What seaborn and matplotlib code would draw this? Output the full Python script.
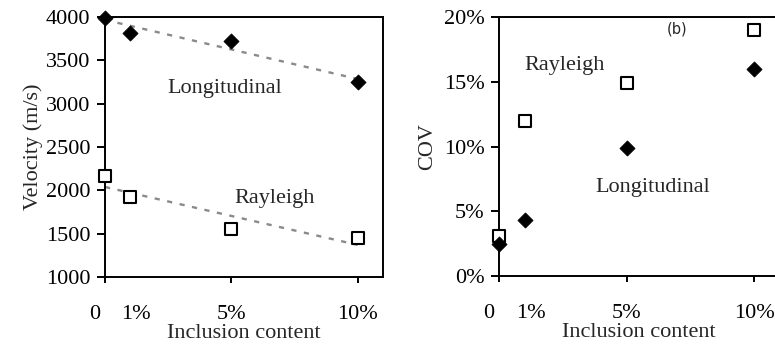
import matplotlib
matplotlib.use("Agg")
import matplotlib.pyplot as plt
import matplotlib.transforms as mtransforms
import pandas as pd
import seaborn as sns

# Inclusion content (%) and its tick labels
content = [0, 1, 5, 10]
content_labels = ["0", "1%", "5%", "10%"]

# Wave velocities (m/s)
vel_longitudinal = [3990, 3820, 3720, 3245]
vel_rayleigh = [2160, 1920, 1555, 1450]

# Coefficient of variation (%)
cov_longitudinal = [2.5, 4.3, 9.9, 16.0]
cov_rayleigh = [3.1, 12.0, 14.9, 19.0]

vel_ticks = [1000, 1500, 2000, 2500, 3000, 3500, 4000]
cov_ticks = [0, 5, 10, 15, 20]

sns.set_theme(style="ticks")
plt.rcParams["font.family"] = ["Liberation Serif", "DejaVu Serif"]
plt.rcParams["mathtext.default"] = "regular"

FS = 16
W, H = 775, 348
fig = plt.figure(figsize=(W / 100, H / 100), dpi=100)
fig.patch.set_facecolor("white")


def px_axes(left, top, right, bottom):
    return fig.add_axes([left / W, 1 - bottom / H, (right - left) / W, (bottom - top) / H])


ax1 = px_axes(105, 17, 383, 277)
ax2 = px_axes(499, 17, 779.5, 276)

vel = pd.DataFrame({"content": content, "Longitudinal": vel_longitudinal, "Rayleigh": vel_rayleigh})
cov = pd.DataFrame({"content": content, "Longitudinal": cov_longitudinal, "Rayleigh": cov_rayleigh})

trend_kws = dict(color="#8a8a8a", linestyle=(0, (2.2, 3.2)), linewidth=1.7)
diamond_kws = dict(marker="D", s=60, color="black", edgecolor="black", linewidth=0.5,
                   clip_on=False, zorder=4)
square_kws = dict(marker="s", s=72, facecolor="white", edgecolor="black", linewidth=1.5,
                  clip_on=False, zorder=4)

# (a) velocities with linear trend lines
for col in ["Longitudinal", "Rayleigh"]:
    sns.regplot(data=vel, x="content", y=col, ax=ax1, scatter=False, ci=None,
                truncate=True, line_kws=trend_kws)
sns.scatterplot(data=vel, x="content", y="Longitudinal", ax=ax1, **diamond_kws)
sns.scatterplot(data=vel, x="content", y="Rayleigh", ax=ax1, **square_kws)

ax1.set_xlim(0, 11)
ax1.set_ylim(1000, 4000)
ax1.set_yticks(vel_ticks)
ax1.set_yticklabels([str(v) for v in vel_ticks])
ax1.set_ylabel("Velocity (m/s)", fontsize=FS, labelpad=2)
ax1.text(4.74, 3177, "Longitudinal", fontsize=FS, ha="center", va="center")
ax1.text(6.72, 1908, "Rayleigh", fontsize=FS, ha="center", va="center")

# (b) coefficient of variation
sns.scatterplot(data=cov, x="content", y="Rayleigh", ax=ax2, **square_kws)
sns.scatterplot(data=cov, x="content", y="Longitudinal", ax=ax2, **diamond_kws)

ax2.set_xlim(0, 11)
ax2.set_ylim(0, 20)
ax2.set_yticks(cov_ticks)
ax2.set_yticklabels([f"{v}%" for v in cov_ticks])
ax2.set_ylabel("COV", fontsize=FS, labelpad=5)
ax2.text(2.59, 16.27, "Rayleigh", fontsize=FS, ha="center", va="center")
ax2.text(6.04, 6.86, "Longitudinal", fontsize=FS, ha="center", va="center")
ax2.text(6.98, 19.04, "(b)", fontsize=10.5, ha="center", va="center", family="DejaVu Sans")

label_shift = {0: -10, 1: 6}
for ax in (ax1, ax2):
    ax.set_xticks(content)
    ax.set_xticklabels(content_labels)
    ax.set_xlabel("Inclusion content", fontsize=FS, labelpad=0)
    for side in ["left", "right", "top", "bottom"]:
        ax.spines[side].set_visible(True)
        ax.spines[side].set_linewidth(1.4)
        ax.spines[side].set_color("black")
    ax.tick_params(axis="y", direction="out", length=5.5, width=1.4, labelsize=FS, pad=5,
                   colors="black")
    ax.tick_params(axis="x", direction="out", length=4.5, width=1.4, labelsize=FS, pad=16,
                   colors="black")
    ax.xaxis.get_major_ticks()[1].tick1line.set_visible(False)
    for i, dx in label_shift.items():
        lab = ax.get_xticklabels()[i]
        lab.set_transform(lab.get_transform() +
                          mtransforms.ScaledTranslation(dx / 100, 0, fig.dpi_scale_trans))
    ax.set_facecolor("white")
    ax.grid(False)

fig.savefig("out.png", dpi=100, facecolor="white")
